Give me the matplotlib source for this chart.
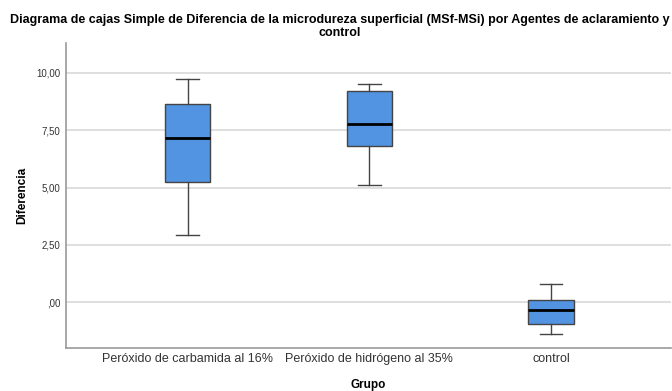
import matplotlib.pyplot as plt

plt.rcParams['font.family'] = ['Liberation Sans', 'DejaVu Sans']

# group names and five-number summaries of Diferencia (MSf-MSi)
grupos = ['Peróxido de carbamida al 16%', 'Peróxido de hidrógeno al 35%', 'control']
minimos = [2.93, 5.11, -1.38]
q1 = [5.23, 6.83, -0.97]
medianas = [7.17, 7.77, -0.34]
q3 = [8.63, 9.21, 0.10]
maximos = [9.72, 9.52, 0.80]

yticks = [0, 2.5, 5, 7.5, 10]
ytick_labels = [',00', '2,50', '5,00', '7,50', '10,00']

stats = []
for g, lo, a, m, b, hi in zip(grupos, minimos, q1, medianas, q3, maximos):
    stats.append({'label': g, 'whislo': lo, 'q1': a, 'med': m, 'q3': b, 'whishi': hi, 'fliers': []})

fig = plt.figure(figsize=(6.72, 3.91), dpi=100)
ax = fig.add_axes([0.0982, 0.1107, 0.9003, 0.7801])

edge = '#444444'
ax.bxp(stats, positions=[1, 2, 3], widths=0.25, patch_artist=True, showfliers=False,
       boxprops=dict(facecolor='#5294e2', edgecolor=edge, linewidth=1.0),
       medianprops=dict(color='black', linewidth=2.0),
       whiskerprops=dict(color=edge, linewidth=1.0),
       capprops=dict(color=edge, linewidth=1.0),
       capwidths=0.125, zorder=3)

ax.set_xlim(0.331, 3.66)
ax.set_ylim(-1.99, 11.32)
ax.set_yticks(yticks)
ax.set_yticklabels(ytick_labels, fontsize=7, color='#333333')
ax.set_xticks([1, 2, 3])
ax.set_xticklabels(grupos, fontsize=9, color='#333333')
ax.tick_params(axis='y', length=0, pad=4)
ax.tick_params(axis='x', length=0, pad=4)

ax.grid(axis='y', color='#d9d9d9', linewidth=1.2, zorder=0)
ax.set_axisbelow(True)
for s in ['top', 'right']:
    ax.spines[s].set_visible(False)
for s in ['left', 'bottom']:
    ax.spines[s].set_color('#9a9a9a')
    ax.spines[s].set_linewidth(1.2)

ax.set_ylabel('Diferencia', fontsize=8.5, fontweight='bold', labelpad=6)
ax.set_xlabel('Grupo', fontsize=8.5, fontweight='bold', labelpad=10)

fig.text(0.506, 0.965, 'Diagrama de cajas Simple de Diferencia de la microdureza superficial (MSf-MSi) por Agentes de aclaramiento y\ncontrol',
         ha='center', va='top', multialignment='center', fontsize=9, fontweight='bold', linespacing=1.1)

fig.savefig('out.png', dpi=100)
